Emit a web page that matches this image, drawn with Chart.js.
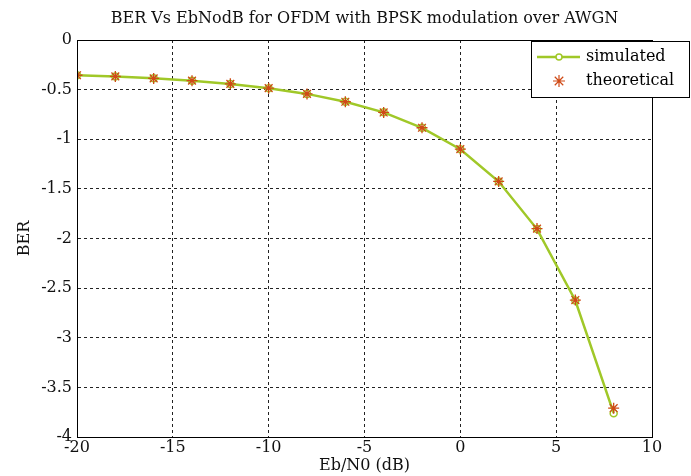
<!DOCTYPE html>
<html>
<head>
<meta charset="utf-8">
<script src="https://cdn.jsdelivr.net/npm/chart.js@4.4.0/dist/chart.umd.min.js"></script>
<style>
  html, body { margin: 0; padding: 0; background: #fff; }
  #wrap { width: 691px; height: 476px; }
</style>
</head>
<body>
<div id="wrap"><canvas id="myChart" width="691" height="476"></canvas></div>
<script>
// Eb/N0 values (dB)
var ebno = [-20, -18, -16, -14, -12, -10, -8, -6, -4, -2, 0, 2, 4, 6, 8];
// log10(BER)
var simulated   = [-0.354, -0.367, -0.386, -0.411, -0.443, -0.486, -0.543, -0.623, -0.729, -0.885, -1.10, -1.426, -1.905, -2.625, -3.76];
var theoretical = [-0.355, -0.367, -0.387, -0.410, -0.442, -0.485, -0.543, -0.622, -0.730, -0.884, -1.10, -1.425, -1.900, -2.620, -3.71];
var xTicks = [-20, -15, -10, -5, 0, 5, 10];
var yTicks = [0, -0.5, -1, -1.5, -2, -2.5, -3, -3.5, -4];
var titleText = 'BER Vs EbNodB for OFDM with BPSK modulation over AWGN';

var serif = "'DejaVu Serif', serif";
var lineCol = "#a0c828";
var starCol = "#cf4a16";

function pts(ys) {
    var out = [];
    for (let i = 0; i < ebno.length; i++) {
        out.push({ x: ebno[i], y: ys[i] });
    }
    return out;
}

// title over the plot, box round the plot and the legend in the upper right corner
const boxPlugin = {
    id: 'boxLegend',
    afterDraw(chart) {
        const c = chart.ctx, a = chart.chartArea;
        c.save();
        c.fillStyle = "#111";
        c.font = "16px " + serif;
        c.textAlign = "center";
        c.textBaseline = "middle";
        c.fillText(titleText, (a.left + a.right) / 2, 19);

        c.strokeStyle = "#000";
        c.lineWidth = 1;
        c.setLineDash([]);
        c.strokeRect(Math.round(a.left) + 0.5, Math.round(a.top) + 0.5,
                     Math.round(a.right - a.left), Math.round(a.bottom - a.top));

        // legend
        const lx = 531, ly = 41, lw = 158, lh = 56;
        c.fillStyle = "#fff";
        c.fillRect(lx, ly, lw, lh);
        c.strokeRect(lx + 0.5, ly + 0.5, lw, lh);
        const ds = chart.data.datasets;
        c.font = "16px " + serif;
        c.textBaseline = "middle";
        c.textAlign = "left";
        // simulated
        let y1 = 57;
        c.strokeStyle = ds[1].borderColor;
        c.lineWidth = 2.5;
        c.beginPath(); c.moveTo(537, y1); c.lineTo(580, y1); c.stroke();
        c.lineWidth = 1.5;
        c.fillStyle = "#fff";
        c.beginPath(); c.arc(559, y1, 3, 0, Math.PI * 2); c.fill(); c.stroke();
        c.fillStyle = "#000";
        c.fillText(ds[1].label, 586, y1);
        // theoretical
        let y2 = 81;
        c.strokeStyle = ds[0].borderColor;
        c.lineWidth = 1.2;
        c.beginPath();
        for (let k = 0; k < 4; k++) {
            const ang = k * Math.PI / 4;
            c.moveTo(559 - 6 * Math.cos(ang), y2 - 6 * Math.sin(ang));
            c.lineTo(559 + 6 * Math.cos(ang), y2 + 6 * Math.sin(ang));
        }
        c.stroke();
        c.fillText(ds[0].label, 586, y2);
        c.restore();
    }
};

let myChart = document.getElementById("myChart").getContext('2d');

const lineChart = new Chart(myChart, {
    type: "line",
    data: {
        datasets: [{
            label: 'theoretical',
            data: pts(theoretical),
            showLine: false,
            borderColor: starCol,
            backgroundColor: starCol,
            pointStyle: 'star',
            pointRadius: 5.5,
            pointBorderWidth: 1.3,
            order: 0
        }, {
            label: 'simulated',
            data: pts(simulated),
            borderColor: lineCol,
            backgroundColor: 'rgba(0,0,0,0)',
            borderWidth: 2.5,
            pointStyle: 'circle',
            pointRadius: 3.5,
            pointBorderWidth: 1.5,
            tension: 0,
            fill: false,
            order: 1
        }]
    },
    options: {
        responsive: false,
        animation: false,
        layout: { padding: { left: 0, right: 39, top: 40, bottom: 0 } },
        scales: {
            x: {
                type: 'linear',
                min: -20,
                max: 10,
                afterBuildTicks: function (s) { s.ticks = xTicks.map(v => ({ value: v })); },
                afterFit: function (s) { s.height = 39; },
                grid: {
                    color: "#222",
                    lineWidth: 1,
                    drawTicks: false
                },
                border: { display: true, color: "#000", dash: [3, 3] },
                ticks: {
                    color: "#111",
                    font: { family: serif, size: 16 },
                    padding: 1,
                    maxRotation: 0,
                    callback: function (v) { return String(v); }
                },
                title: {
                    display: true,
                    text: 'Eb/N0 (dB)',
                    color: "#111",
                    font: { family: serif, size: 16 },
                    padding: { top: 0, bottom: 1 }
                }
            },
            y: {
                type: 'linear',
                min: -4,
                max: 0,
                afterBuildTicks: function (s) { s.ticks = yTicks.map(v => ({ value: v })); },
                afterFit: function (s) { s.width = 77; },
                grid: {
                    color: "#222",
                    lineWidth: 1,
                    drawTicks: false
                },
                border: { display: true, color: "#000", dash: [3, 3] },
                ticks: {
                    color: "#111",
                    font: { family: serif, size: 16 },
                    padding: 5,
                    callback: function (v) { return String(v); }
                },
                title: {
                    display: true,
                    text: 'BER',
                    color: "#111",
                    font: { family: serif, size: 16 },
                    padding: { top: 15, bottom: 0 }
                }
            }
        },
        plugins: {
            legend: { display: false },
            tooltip: { enabled: false },
            title: { display: false }
        }
    },
    plugins: [boxPlugin]
});
</script>
</body>
</html>
